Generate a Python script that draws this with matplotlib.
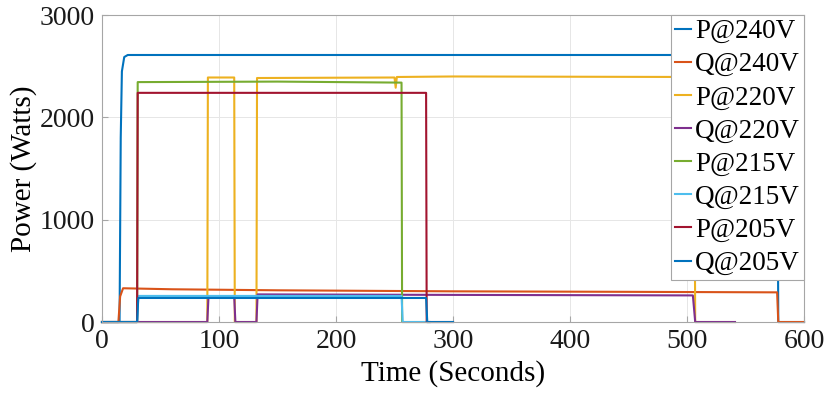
import matplotlib.pyplot as plt

plt.rcParams['font.family'] = ['Liberation Serif', 'DejaVu Serif']

labels = ['P@240V', 'Q@240V', 'P@220V', 'Q@220V',
          'P@215V', 'Q@215V', 'P@205V', 'Q@205V']
colors = ['#0072BD', '#D95319', '#EDB120', '#7E2F8E',
          '#77AC30', '#4DBEEE', '#A2142F', '#0072BD']

# breakpoints (time in s, power in W)
p240_t = [0, 15, 16, 17, 19, 22, 577, 578, 600]
p240_v = [0, 0, 1800, 2450, 2590, 2610, 2610, 0, 0]
q240_t = [0, 14, 15.5, 18, 60, 150, 300, 450, 577, 578, 600]
q240_v = [0, 0, 250, 330, 320, 310, 300, 295, 290, 0, 0]
p220_t = [0, 90, 90.5, 113, 113.5, 132, 132.5, 250, 251, 252, 300, 506, 507, 541]
p220_v = [0, 0, 2390, 2390, 0, 0, 2385, 2390, 2290, 2395, 2400, 2395, 0, 0]
q220_t = [0, 90, 91, 113, 114, 132, 133, 300, 505, 507, 541]
q220_v = [0, 0, 245, 245, 0, 0, 270, 265, 260, 0, 0]
p215_t = [0, 30, 30.5, 150, 256, 256.5, 280]
p215_v = [0, 0, 2345, 2350, 2340, 0, 0]
q215_t = [0, 30, 31, 256, 257, 280]
q215_v = [0, 0, 255, 255, 0, 0]
p205_t = [0, 30, 30.5, 277, 277.5, 300]
p205_v = [0, 0, 2240, 2240, 0, 0]
q205_t = [0, 30, 31, 277, 278, 300]
q205_v = [0, 0, 235, 235, 0, 0]

series_t = [p240_t, q240_t, p220_t, q220_t, p215_t, q215_t, p205_t, q205_t]
series_v = [p240_v, q240_v, p220_v, q220_v, p215_v, q215_v, p205_v, q205_v]

fig = plt.figure(figsize=(8.3, 3.94), dpi=100)
ax = fig.add_axes([0.1229, 0.1827, 0.8458, 0.779])

for t, v, c, lab in zip(series_t, series_v, colors, labels):
    ax.plot(t, v, color=c, lw=1.5, label=lab, clip_on=False)

ax.set_xlim(0, 600)
ax.set_ylim(0, 3000)
ax.set_xticks(range(0, 601, 100))
ax.set_yticks(range(0, 3001, 1000))
ax.grid(True, color='#e6e6e6', lw=0.7)
ax.set_axisbelow(True)
for s in ax.spines.values():
    s.set_color('#a6a6a6')
    s.set_linewidth(0.8)
ax.tick_params(direction='in', length=4, color='#a6a6a6', labelsize=20,
               labelcolor='#1a1a1a', pad=5)

ax.set_xlabel('Time (Seconds)', fontsize=21)
ax.xaxis.set_label_coords(0.5, -0.125)
ax.set_ylabel('Power (Watts)', fontsize=21, labelpad=2)

leg = ax.legend(loc='upper right', fontsize=19.5, borderaxespad=0,
                handlelength=0.6, handletextpad=0.15, labelspacing=0.3,
                borderpad=0.15, fancybox=False, framealpha=1,
                edgecolor='#a6a6a6')
leg.get_frame().set_linewidth(0.8)

fig.savefig('out.png', dpi=100)
